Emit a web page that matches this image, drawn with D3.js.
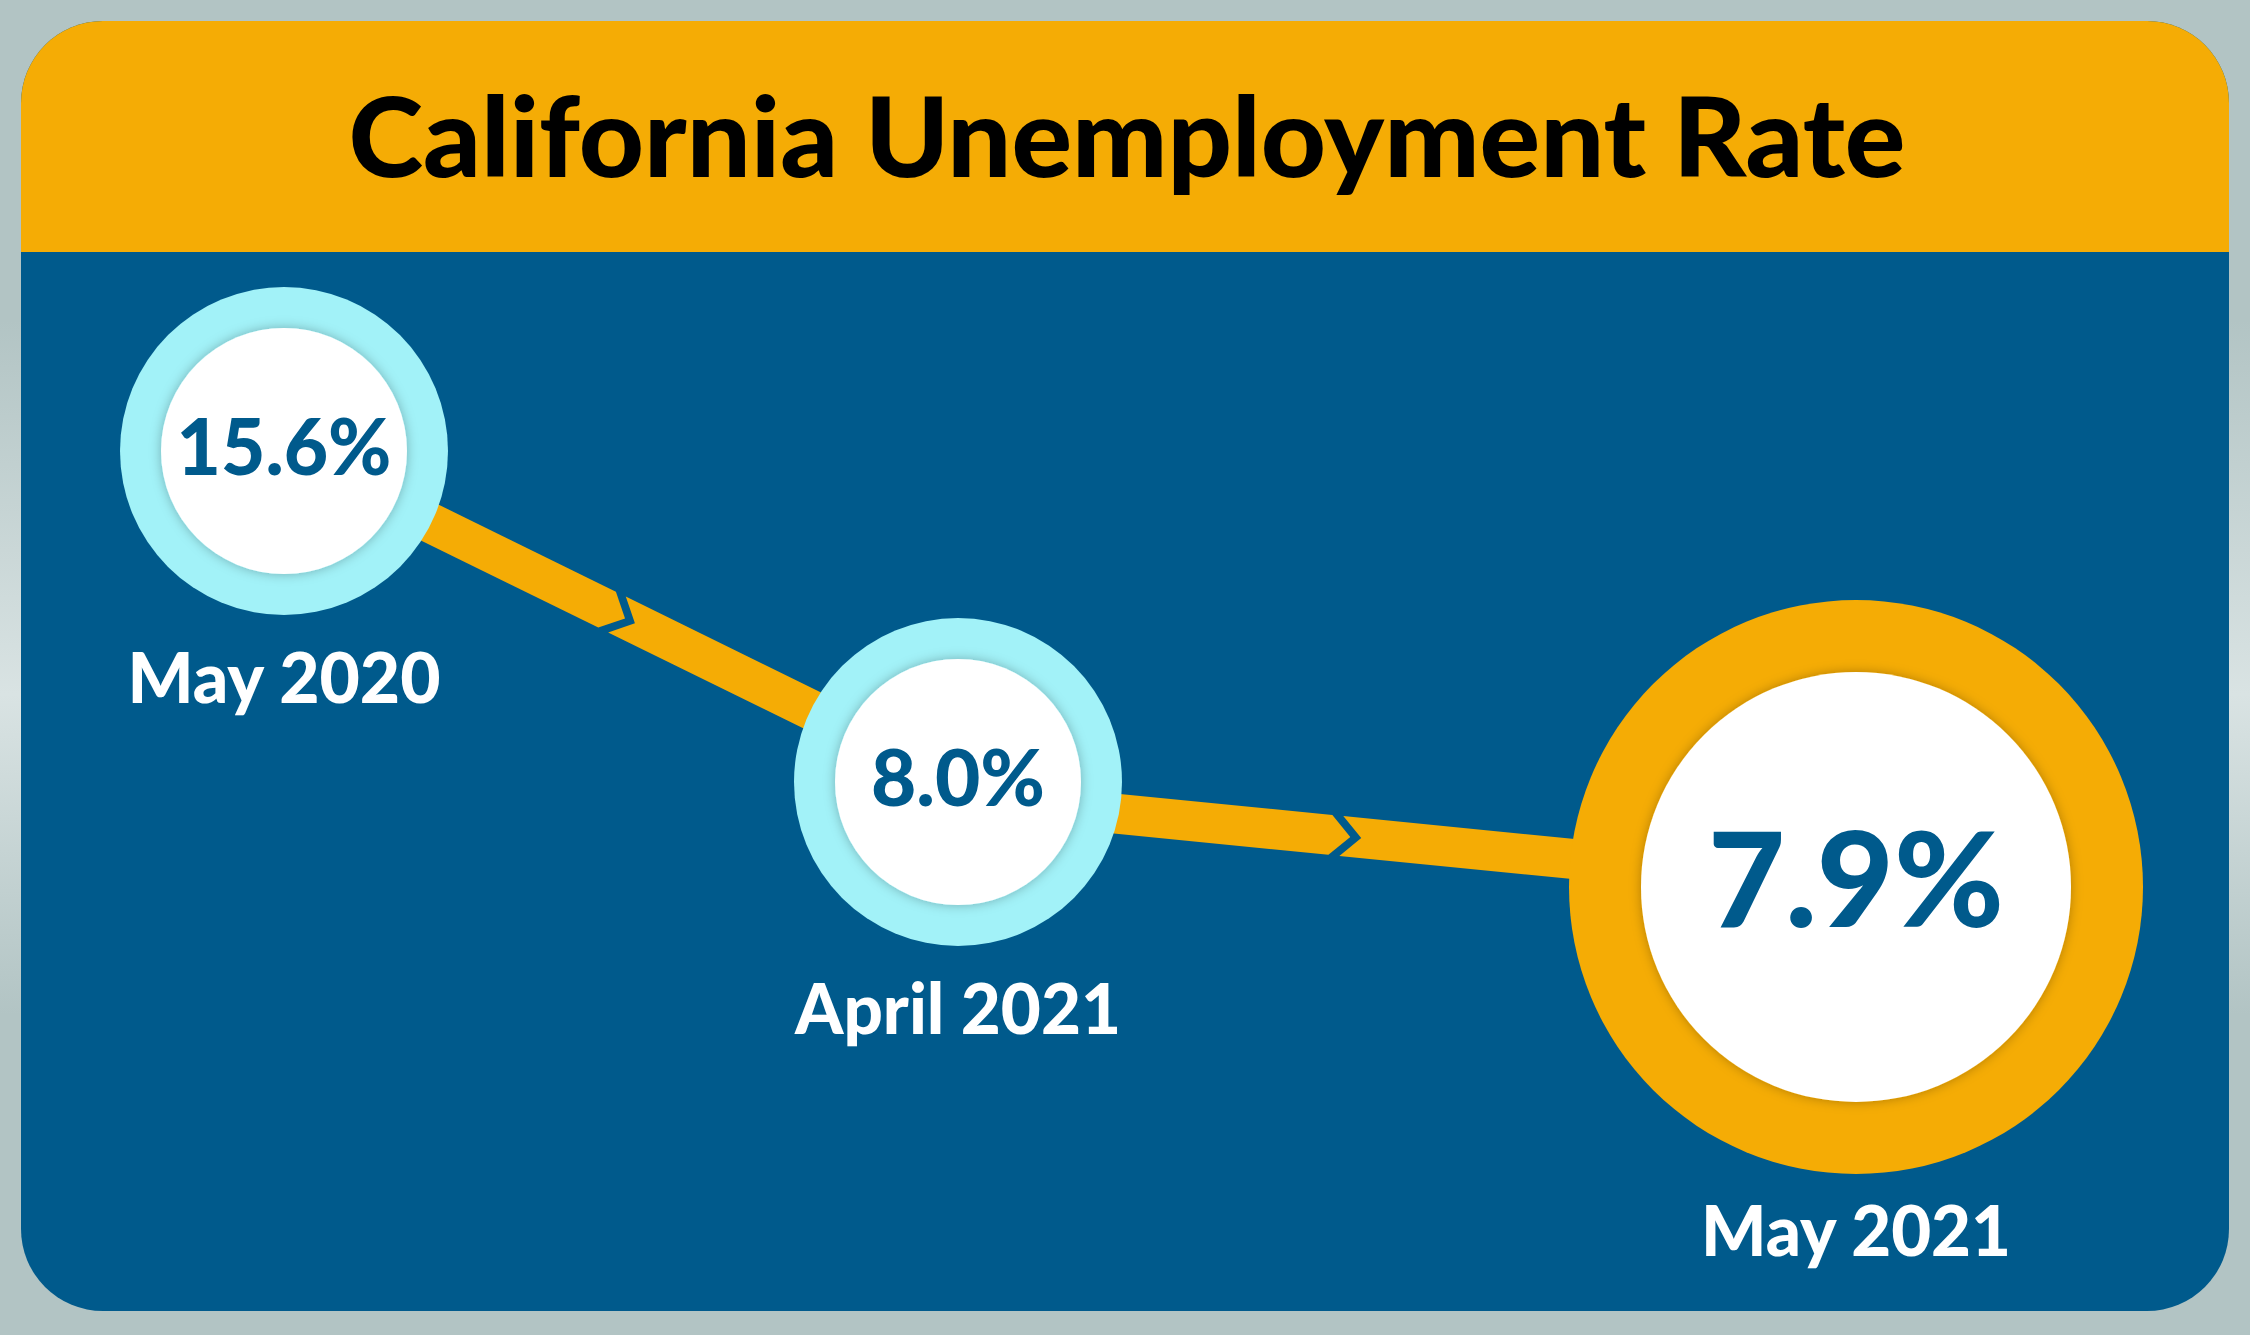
<!DOCTYPE html>
<html>
<head>
<meta charset="utf-8">
<script src="https://cdn.jsdelivr.net/npm/d3@7"></script>
<style>
  body { margin: 0; background: #b2c4c4; }
  svg { display: block; }
  text { font-family: Lato, "Open Sans", sans-serif; font-weight: 900; }
</style>
</head>
<body>
<svg width="2250" height="1335"></svg>
<script>
// data
const title = 'California Unemployment Rate';
const periods = ['May 2020', 'April 2021', 'May 2021'];
const rates = [15.6, 8.0, 7.9];

const svg = d3.select('svg');
const width = +svg.attr('width');
const height = +svg.attr('height');

const orange = '#f5ac05';
const blue = '#005a8c';
const cyan = '#a2f2f8';

const defs = svg.append('defs');

const bgGrad = defs.append('linearGradient')
    .attr('id', 'bg')
    .attr('x1', 0).attr('y1', 0)
    .attr('x2', 0).attr('y2', 1);
[[0, '#b2c4c4'], [0.24, '#b2c4c4'], [0.52, '#d9e3e3'], [0.76, '#b2c4c4'], [1, '#b2c4c4']]
  .forEach(([o, c]) => bgGrad.append('stop').attr('offset', o).attr('stop-color', c));

const shadow = defs.append('filter')
    .attr('id', 'shadow')
    .attr('x', '-20%').attr('y', '-20%')
    .attr('width', '140%').attr('height', '140%');
shadow.append('feDropShadow')
    .attr('dx', 0).attr('dy', 0)
    .attr('stdDeviation', 6)
    .attr('flood-color', '#000')
    .attr('flood-opacity', 0.28);

svg.append('rect')
    .attr('width', width)
    .attr('height', height)
    .attr('fill', 'url(#bg)');

// card
const card = { x: 21, y: 21, w: 2208, h: 1290, r: 82, header: 252 };

defs.append('clipPath').attr('id', 'card')
  .append('rect')
    .attr('x', card.x).attr('y', card.y)
    .attr('width', card.w).attr('height', card.h)
    .attr('rx', card.r);

const cardG = svg.append('g').attr('clip-path', 'url(#card)');

cardG.append('rect')
    .attr('x', card.x).attr('y', card.y)
    .attr('width', card.w).attr('height', card.h)
    .attr('fill', blue);

cardG.append('rect')
    .attr('x', card.x).attr('y', card.y)
    .attr('width', card.w).attr('height', card.header - card.y)
    .attr('fill', orange);

svg.append('text')
    .attr('x', width / 2 + 2)
    .attr('y', 177)
    .attr('text-anchor', 'middle')
    .attr('font-size', 110)
    .attr('textLength', 1557)
    .attr('lengthAdjust', 'spacingAndGlyphs')
    .attr('fill', '#000')
    .text(title);

// positions of the three bubbles
const x = d3.scaleOrdinal().domain(periods).range([284, 958, 1856]);
const y = d3.scaleOrdinal().domain(periods).range([451, 782, 887]);

const last = periods.length - 1;
const outerR = i => i === last ? 287 : 164;
const innerR = i => i === last ? 215 : 123;
const ringColor = i => i === last ? orange : cyan;
// band leaves a bubble slightly below its centre
const bandNudge = [0, 16, 0];

// connecting bands with a chevron break
const halfW = 20;
const tipLen = 20;
const gap = 11;

const bandsG = svg.append('g');

d3.pairs(periods.map((p, i) => ({ p, i }))).forEach(([a, b]) => {
  const x0 = x(a.p), y0 = y(a.p) + bandNudge[a.i];
  const x1 = x(b.p), y1 = y(b.p);
  const len = Math.hypot(x1 - x0, y1 - y0);
  const ang = Math.atan2(y1 - y0, x1 - x0) * 180 / Math.PI;
  const c = (outerR(a.i) + len - outerR(b.i)) / 2 - tipLen / 2 - gap / 2;

  const g = bandsG.append('g')
      .attr('transform', `translate(${x0},${y0}) rotate(${ang})`);

  const pieceA = [[0, -halfW], [c, -halfW], [c + tipLen, 0], [c, halfW], [0, halfW]];
  const s = c + gap;
  const pieceB = [[s, -halfW], [len, -halfW], [len, halfW], [s, halfW], [s + tipLen, 0]];

  [pieceA, pieceB].forEach(pts => {
    g.append('path')
        .attr('d', d3.line()(pts) + 'Z')
        .attr('fill', orange);
  });
});

// bubbles
const bubbles = svg.append('g')
  .selectAll('g')
  .data(periods)
  .join('g')
    .attr('transform', d => `translate(${x(d)},${y(d)})`);

bubbles.append('circle')
    .attr('r', (d, i) => outerR(i))
    .attr('fill', (d, i) => ringColor(i));

bubbles.append('circle')
    .attr('r', (d, i) => innerR(i))
    .attr('fill', '#fff')
    .attr('filter', 'url(#shadow)');

const pctSize = i => i === last ? 132 : 79;
const pctWidth = [215, 174, 296];

bubbles.append('text')
    .attr('text-anchor', 'middle')
    .attr('y', (d, i) => pctSize(i) * 0.3)
    .attr('font-size', (d, i) => pctSize(i))
    .attr('textLength', (d, i) => pctWidth[i])
    .attr('lengthAdjust', 'spacingAndGlyphs')
    .attr('fill', blue)
    .text((d, i) => rates[i].toFixed(1) + '%');

const dateWidth = [313, 326, 310];

bubbles.append('text')
    .attr('text-anchor', 'middle')
    .attr('y', (d, i) => outerR(i) + (i === last ? 82 : 88))
    .attr('font-size', 70)
    .attr('textLength', (d, i) => dateWidth[i])
    .attr('lengthAdjust', 'spacingAndGlyphs')
    .attr('fill', '#fff')
    .text(d => d);
</script>
</body>
</html>
